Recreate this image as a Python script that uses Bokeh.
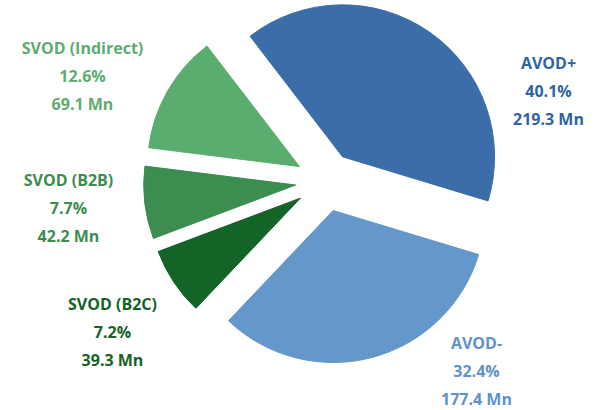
import math
from bokeh.plotting import figure
from bokeh.models import Range1d, ColumnDataSource
from bokeh.core.properties import value
from bokeh.embed import file_html
from bokeh.resources import INLINE

# ---- data ----
categories = ["AVOD+", "AVOD-", "SVOD (B2C)", "SVOD (B2B)", "SVOD (Indirect)"]
shares = [40.1, 32.4, 7.2, 7.7, 12.6]          # percent
subscribers = [219.3, 177.4, 39.3, 42.2, 69.1]  # millions

# ---- style ----
colors = ["#3B6EA8", "#6497CA", "#146327", "#3C8D4F", "#5BAD6F"]
text_colors = ["#2F64A3", "#5F93CA", "#146327", "#3C8D4F", "#5BAD6F"]
W, H = 600, 410
cx, cy = 325, 410 - 181
radius = 152
explode = 30
start_deg = 127.5  # slices go clockwise from here
# label anchor (centre of the 3-line block), in pixel coords from top-left
label_pos = [(548, 90), (476, 370), (112, 331), (68, 207), (82, 75)]
line_gap = 28

p = figure(width=W, height=H, output_backend="svg", toolbar_location=None,
           x_range=Range1d(0, W), y_range=Range1d(0, H), min_border=0)
p.axis.visible = False
p.grid.visible = False
p.outline_line_color = None
p.background_fill_color = "white"
p.border_fill_color = "white"

total = sum(shares)
xs, ys, sa, ea = [], [], [], []
ang = math.radians(start_deg)
for s in shares:
    sweep = 2 * math.pi * s / total
    end = ang
    start = ang - sweep
    mid = (start + end) / 2
    xs.append(cx + explode * math.cos(mid))
    ys.append(cy + explode * math.sin(mid))
    sa.append(start)
    ea.append(end)
    ang = start

src = ColumnDataSource(dict(x=xs, y=ys, sa=sa, ea=ea, color=colors))
p.wedge(x="x", y="y", radius=radius, start_angle="sa", end_angle="ea",
        fill_color="color", line_color="color", line_width=1, source=src)

tx, ty, tt, tc = [], [], [], []
for i, name in enumerate(categories):
    lx, ly = label_pos[i]
    lines = [name, f"{shares[i]}%", f"{subscribers[i]} Mn"]
    for k, t in enumerate(lines):
        tx.append(lx)
        ty.append(H - (ly + (k - 1) * line_gap))
        tt.append(t)
        tc.append(text_colors[i])

tsrc = ColumnDataSource(dict(x=tx, y=ty, text=tt, color=tc))
p.text(x="x", y="y", text="text", text_color="color", source=tsrc,
       text_align="center", text_baseline="middle",
       text_font=value("Open Sans"), text_font_style="bold", text_font_size="16px")

open("out.html", "w").write(file_html(p, INLINE))
